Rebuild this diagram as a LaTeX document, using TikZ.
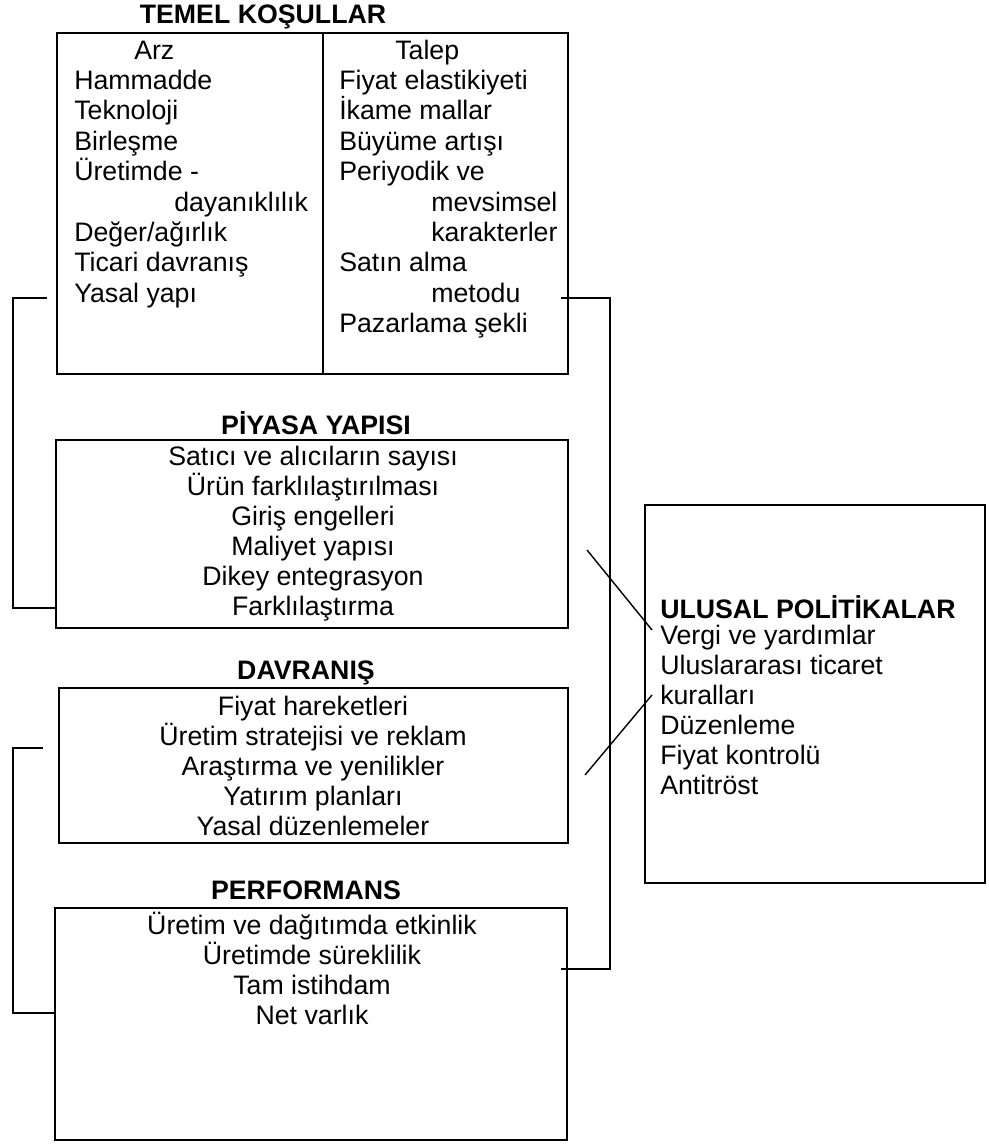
\documentclass[tikz,border=0pt]{standalone}
\usepackage{fontspec}
\setmainfont{Liberation Sans}
\begin{document}
\begin{tikzpicture}[
    font=\fontsize{19}{23}\selectfont,
    item/.style={anchor=west, inner sep=0pt, text height=14pt, text depth=4pt},
    mid/.style={anchor=center, inner sep=0pt, text height=14pt, text depth=4pt},
    head/.style={anchor=center, inner sep=0pt, font=\fontsize{19}{23}\selectfont\bfseries},
    box/.style={draw, line width=1.2pt, inner sep=0pt},
    link/.style={line width=1pt}]
          \useasboundingbox (0,0) rectangle (24.7,28.6);

          \draw (7.8125,23.5125) node[box, minimum width=12.775cm, minimum height=8.525cm] (temel) {};
          \draw (7.8,15.25) node[box, minimum width=12.8cm, minimum height=4.7cm] (piyasa) {};
          \draw (7.8375,9.4625) node[box, minimum width=12.725cm, minimum height=3.875cm] (davranis) {};
          \draw (7.775,3.0) node[box, minimum width=12.8cm, minimum height=5.8cm] (perf) {};
          \draw (20.375,11.25) node[box, minimum width=8.5cm, minimum height=9.45cm] (ulusal) {};
          \coordinate (split) at (8.075,0);
          \draw[line width=1.2pt] (temel.north -| split) -- (temel.south -| split);

          \draw (6.575,28.175) node[head] (temelh) {TEMEL KOŞULLAR};
          \draw (7.9,18.025) node[head] (piyasah) {PİYASA YAPISI};
          \draw (7.65,11.775) node[head] (davranish) {DAVRANIŞ};
          \draw (7.65,6.35) node[head] (perfh) {PERFORMANS};
          \draw (16.5,13.425) node[head, anchor=west] (ulusalh) {ULUSAL POLİTİKALAR};

          \draw (3.35,27.30) node[item] (arz) {Arz};
          \draw (1.85,26.54) node[item] (hammadde) {Hammadde};
          \draw (1.85,25.78) node[item] (teknoloji) {Teknoloji};
          \draw (1.85,25.02) node[item] (birlesme) {Birleşme};
          \draw (1.85,24.26) node[item] (uretimde) {Üretimde -};
          \draw (4.35,23.50) node[item] (dayanik) {dayanıklılık};
          \draw (1.85,22.74) node[item] (deger) {Değer/ağırlık};
          \draw (1.85,21.98) node[item] (ticari) {Ticari davranış};
          \draw (1.85,21.22) node[item] (yasal) {Yasal yapı};

          \draw (9.875,27.30) node[item] (talep) {Talep};
          \draw (8.475,26.54) node[item] (elastik) {Fiyat elastikiyeti};
          \draw (8.475,25.78) node[item] (ikame) {İkame mallar};
          \draw (8.475,25.02) node[item] (buyume) {Büyüme artışı};
          \draw (8.475,24.26) node[item] (periyodik) {Periyodik ve};
          \draw (10.775,23.50) node[item] (mevsim) {mevsimsel};
          \draw (10.775,22.74) node[item] (karakter) {karakterler};
          \draw (8.475,21.98) node[item] (satin) {Satın alma};
          \draw (10.775,21.22) node[item] (metodu) {metodu};
          \draw (8.475,20.46) node[item] (pazarlama) {Pazarlama şekli};

          \draw (7.825,17.15) node[mid] (satici) {Satıcı ve alıcıların sayısı};
          \draw (7.825,16.40) node[mid] (urun) {Ürün farklılaştırılması};
          \draw (7.825,15.65) node[mid] (giris) {Giriş engelleri};
          \draw (7.825,14.90) node[mid] (maliyet) {Maliyet yapısı};
          \draw (7.825,14.15) node[mid] (dikey) {Dikey entegrasyon};
          \draw (7.825,13.40) node[mid] (farkli) {Farklılaştırma};

          \draw (7.825,10.90) node[mid] (fiyath) {Fiyat hareketleri};
          \draw (7.825,10.15) node[mid] (strateji) {Üretim stratejisi ve reklam};
          \draw (7.825,9.40) node[mid] (arastirma) {Araştırma ve yenilikler};
          \draw (7.825,8.65) node[mid] (yatirim) {Yatırım planları};
          \draw (7.825,7.90) node[mid] (yasald) {Yasal düzenlemeler};

          \draw (7.8,5.425) node[mid] (etkinlik) {Üretim ve dağıtımda etkinlik};
          \draw (7.8,4.675) node[mid] (sureklilik) {Üretimde süreklilik};
          \draw (7.8,3.925) node[mid] (istihdam) {Tam istihdam};
          \draw (7.8,3.175) node[mid] (netv) {Net varlık};

          \draw (16.5,12.675) node[item] (vergi) {Vergi ve yardımlar};
          \draw (16.5,11.925) node[item] (ticaret) {Uluslararası ticaret};
          \draw (16.5,11.175) node[item] (kural) {kuralları};
          \draw (16.5,10.425) node[item] (duzen) {Düzenleme};
          \draw (16.5,9.675) node[item] (kontrol) {Fiyat kontrolü};
          \draw (16.5,8.925) node[item] (anti) {Antitröst};

          \coordinate (yk) at (1.175,21.15);
          \coordinate (mk) at (14.025,21.15);
          \coordinate (sk) at (14.025,4.375);
          \coordinate (uk) at (1.075,9.9);
          \coordinate (nk) at (1.375,3.275);
          \coordinate (ps) at (14.675,14.85);
          \coordinate (pe) at (16.3,12.85);
          \coordinate (ds) at (14.625,9.225);
          \coordinate (de) at (16.3,11.225);

          \draw[link] (yk) -- ++(-0.85,0) |- (piyasa.west |- farkli);
          \draw[link] (mk) -- ++(1.225,0) |- (sk);
          \draw[link] (uk) -- ++(-0.75,0) |- (nk);
          \draw[link] (ps) -- (pe);
          \draw[link] (ds) -- (de);
      \end{tikzpicture}
\end{document}
